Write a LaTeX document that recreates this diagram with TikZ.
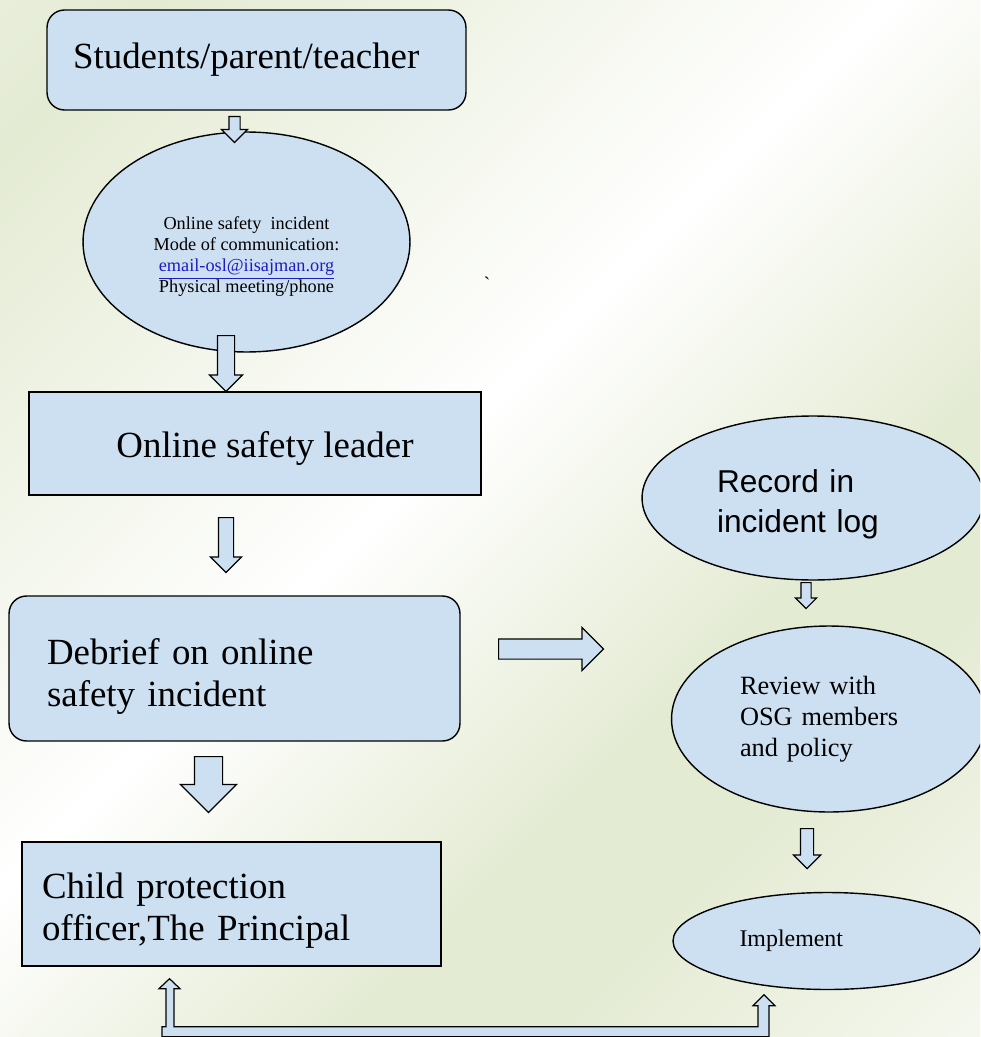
\documentclass[tikz,border=0pt]{standalone}
\usepackage{fontspec}
\setmainfont{Liberation Serif}
\newfontfamily\arialfont{Liberation Sans}
\usetikzlibrary{shapes.geometric,shapes.arrows,calc}
\definecolor{boxblue}{HTML}{CDE0F2}
\definecolor{linkblue}{HTML}{1C1CC4}
\definecolor{bggreen}{HTML}{E4EBD3}
\definecolor{bgpale}{HTML}{EEF2E6}
\pgfdeclarehorizontalshading{bgbands}{100bp}{color(0bp)=(bgpale); color(6bp)=(bgpale);
    color(20bp)=(bggreen); color(46bp)=(white); color(63bp)=(bggreen);
    color(70bp)=(bggreen); color(95bp)=(white); color(100bp)=(white)}

\begin{document}
\begin{tikzpicture}[
    x=0.02cm, y=-0.02cm,
    line width=0.8pt,
    box/.style={
        draw=black,
        fill=boxblue,
        rectangle,
        inner ysep=0pt,
        align=left
    },
    roundbox/.style={box, rounded corners=0.35cm},
    bubble/.style={
        draw=black,
        fill=boxblue,
        ellipse,
        inner sep=0pt,
        align=left
    },
    bigtext/.style={font=\fontsize{21}{24}\selectfont},
    blockarrow/.style={
        single arrow,
        draw=black,
        fill=boxblue,
        line width=0.7pt,
        inner sep=0pt,
        single arrow head indent=0pt,
        anchor=tail
    },
    loopback/.style={draw=black, fill=boxblue, line width=0.7pt}
]

% page and background
\useasboundingbox (0,0) rectangle (980,1037);
\clip (0,0) rectangle (980,1037);
\shade[shading=bgbands, shading angle=-45] (0,0) rectangle (980,1037);

% left column
\node[roundbox, bigtext, minimum width=8.38cm, minimum height=2cm,
    text width=7.34cm, inner xsep=0.52cm] (reporter) at (256.5,60)
    {Students/parent/teacher};

\node[bubble, align=center, minimum width=6.54cm, minimum height=4.4cm,
    font=\fontsize{10.4}{12}\selectfont] (incident) at (246.5,242)
    {\mbox{}\\[12pt]Online safety\ \ incident\\Mode of communication:\\
     {\color{linkblue}\underline{email-osl@iisajman.org}}\\Physical meeting/phone};

\node[box, bigtext, align=center, minimum width=9.04cm, minimum height=2.06cm]
    (leader) at (255,443.5) {\rule{0pt}{20pt}\hspace*{0.4cm}Online safety leader};

\node[roundbox, bigtext, minimum width=9.02cm, minimum height=2.9cm,
    text width=7.5cm, inner xsep=0.76cm] (debrief) at (234.5,668.5)
    {\rule{0pt}{24pt}Debrief on online\\safety incident};

\node[box, bigtext, minimum width=8.38cm, minimum height=2.48cm,
    text width=7.58cm, inner xsep=0.4cm] (officer) at (231.5,904)
    {\rule{0pt}{22pt}Child protection\\officer,The Principal};

% right column
\node[bubble, minimum width=6.84cm, minimum height=3.28cm, text width=3.84cm,
    font=\arialfont\fontsize{18}{22.7}\selectfont] (record) at (813,498)
    {\rule{0pt}{20pt}Record in\\incident log};

\node[bubble, minimum width=6.3cm, minimum height=3.72cm, text width=3.56cm,
    font=\fontsize{15}{17.6}\selectfont] (review) at (829,719)
    {Review with\\OSG members\\and policy};

\node[bubble, minimum width=6.18cm, minimum height=1.94cm, text width=3.52cm,
    font=\fontsize{13.6}{16}\selectfont] (implement) at (827.5,941)
    {Implement};

\node[font=\fontsize{11}{12}\selectfont] (stray) at (487,284) {\textasciigrave};

% block arrows
\node[blockarrow, rotate=-90, minimum height=0.52cm, minimum width=0.5cm,
    inner ysep=0.1cm, single arrow head extend=0.15cm] (reporter2incident) at (234.5,116) {};
\node[blockarrow, rotate=-90, minimum height=1.12cm, minimum width=0.64cm,
    inner ysep=0.16cm, single arrow head extend=0.16cm] (incident2leader) at (226,335) {};
\node[blockarrow, rotate=-90, minimum height=1.1cm, minimum width=0.6cm,
    inner ysep=0.14cm, single arrow head extend=0.16cm] (leader2debrief) at (226,517) {};
\node[blockarrow, rotate=-90, minimum height=1.12cm, minimum width=1.1cm,
    inner ysep=0.27cm, single arrow head extend=0.28cm] (debrief2officer) at (208.5,756) {};
\node[blockarrow, minimum height=2.1cm, minimum width=0.84cm,
    inner ysep=0.19cm, single arrow head extend=0.23cm] (debrief2record) at (498,649) {};
\node[blockarrow, rotate=-90, minimum height=0.52cm, minimum width=0.4cm,
    inner ysep=0.09cm, single arrow head extend=0.11cm] (record2review) at (806,582) {};
\node[blockarrow, rotate=-90, minimum height=0.8cm, minimum width=0.52cm,
    inner ysep=0.12cm, single arrow head extend=0.14cm] (review2implement) at (807,828) {};

% officer <-> implement
\draw[loopback] ($(officer.south)+(-62,12)$)
    -- ++(10.5,10) -- ++(-6,0) -- ++(0,38) -- ++(584,0) -- ++(0,-21)
    -- ++(-5,0) -- ++(11,-11) -- ++(11,11) -- ++(-6,0) -- ++(0,31)
    -- ++(-607,0) -- ++(0,-10) -- ++(4,0) -- ++(0,-38) -- ++(-7,0) -- cycle;

\end{tikzpicture}
\end{document}
